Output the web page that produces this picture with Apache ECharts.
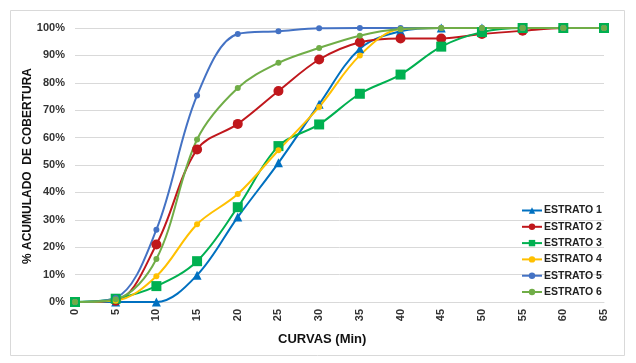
<!DOCTYPE html>
<html><head><meta charset="utf-8">
<script src="https://cdn.jsdelivr.net/npm/echarts@6/dist/echarts.min.js"></script>
<style>html,body{margin:0;padding:0;background:#fff}#c{width:636px;height:363px}</style>
</head><body><div id="c"></div>
<script>
const categories = ['0','5','10','15','20','25','30','35','40','45','50','55','60','65'];
const estrato1 = [0, 0, 0, 9.8, 31, 50.8, 72.2, 92.4, 98.8, 100, 100, 100, 100, 100];
const estrato2 = [0, 0.5, 21, 55.7, 65, 77, 88.5, 94.8, 96.2, 96.2, 97.8, 99, 100, 100];
const estrato3 = [0, 1.2, 5.8, 14.9, 34.6, 56.9, 64.8, 76, 83, 93.2, 98.5, 100, 100, 100];
const estrato4 = [0, 0.5, 9.4, 28.4, 39.4, 55.4, 71.2, 90, 99.6, 100, 100, 100, 100, 100];
const estrato5 = [0, 1.5, 26.4, 75.4, 97.8, 98.8, 99.9, 100, 100, 100, 100, 100, 100, 100];
const estrato6 = [0, 1, 15.7, 59.3, 78.1, 87.3, 92.7, 97.2, 99.6, 100, 100, 100, 100, 100];
const names = ['ESTRATO 1','ESTRATO 2','ESTRATO 3','ESTRATO 4','ESTRATO 5','ESTRATO 6'];
const xTitle = 'CURVAS (Min)';
const yTitle = '% ACUMULADO  DE COBERTURA';

const colors = ['#0070C0','#C0171C','#00B050','#FFC000','#4472C4','#70AD47'];
const symbols = ['triangle','circle','rect','circle','circle','circle'];
const sizes = [9,10,10,6,6,6];
const data = [estrato1,estrato2,estrato3,estrato4,estrato5,estrato6];
const FF = 'Liberation Sans, Arial, sans-serif';

const chart = echarts.init(document.getElementById('c'));
chart.setOption({
  animation:false,
  backgroundColor:'#fff',
  textStyle:{fontFamily:FF},
  graphic:[
    {type:'rect',shape:{x:10.5,y:10.5,width:614,height:345},style:{fill:'none',stroke:'#d9d9d9',lineWidth:1},silent:true,z:-10},
    {type:'text',x:28,y:166,rotation:Math.PI/2,style:{text:yTitle,font:'bold 12px '+FF,fill:'#111',align:'center',verticalAlign:'middle'},silent:true}
  ],
  title:{text:xTitle,left:273,top:328,textStyle:{fontSize:13,fontWeight:'bold',color:'#111',fontFamily:FF}},
  grid:{left:75,right:32,top:28,bottom:61},
  legend:{
    orient:'vertical', left:516, top:200, itemGap:5.3, itemWidth:20, itemHeight:8,
    textStyle:{fontSize:10.5,fontWeight:'bold',color:'#222',padding:[0,0,0,-3]},
    data:names
  },
  xAxis:{
    type:'category', data:categories, boundaryGap:false,
    axisLine:{lineStyle:{color:'#d9d9d9'}},
    axisTick:{show:false},
    axisLabel:{rotate:90,fontSize:11,fontWeight:'bold',color:'#333',margin:7}
  },
  yAxis:{
    type:'value', min:0, max:100, interval:10,
    axisLabel:{formatter:v=>v+'%',fontSize:11,fontWeight:'bold',color:'#333',margin:10},
    splitLine:{lineStyle:{color:'#d9d9d9'}},
    axisLine:{show:false}, axisTick:{show:false}
  },
  series:names.map((n,i)=>({
    name:n, type:'line', data:data[i], smooth:0.35,
    symbol:symbols[i], symbolSize:sizes[i], showAllSymbol:true,
    lineStyle:{width:2,color:colors[i]},
    itemStyle:{color:colors[i]}
  }))
});
</script></body></html>
